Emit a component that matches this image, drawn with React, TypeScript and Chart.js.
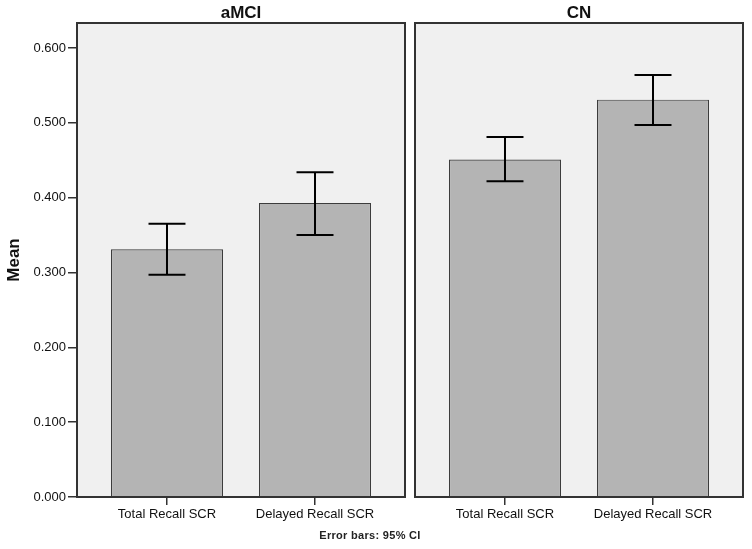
import React, { useEffect, useRef } from "react";
import { Chart, registerables } from "chart.js";

Chart.register(...registerables);

// ---- data ----
const groups = ["aMCI", "CN"];
const categories = ["Total Recall SCR", "Delayed Recall SCR"];
const yTicks = [0, 0.1, 0.2, 0.3, 0.4, 0.5, 0.6];
const aMCIMean = [0.331, 0.393];
const aMCILower = [0.297, 0.35];
const aMCIUpper = [0.365, 0.434];
const cnMean = [0.451, 0.531];
const cnLower = [0.422, 0.497];
const cnUpper = [0.481, 0.564];
const yTitle = "Mean";
const footnote = "Error bars: 95% CI";

const FONT = "'Liberation Sans', Arial, Helvetica, sans-serif";
const Y_MAX = 0.6334;

const panelPlugin = {
  id: "panelPlugin",
  beforeDraw(chart: any) {
    const { ctx, chartArea } = chart;
    ctx.save();
    ctx.fillStyle = "#f0f0f0";
    ctx.fillRect(chartArea.left, chartArea.top, chartArea.right - chartArea.left, chartArea.bottom - chartArea.top);
    ctx.restore();
  },
  afterDatasetsDraw(chart: any, _args: any, opts: any) {
    const { ctx } = chart;
    const yScale = chart.scales.y;
    const meta = chart.getDatasetMeta(0);
    ctx.save();
    ctx.strokeStyle = "#000";
    ctx.lineWidth = 2;
    meta.data.forEach((bar: any, i: number) => {
      const x = bar.x;
      const yl = yScale.getPixelForValue(opts.lower[i]);
      const yu = yScale.getPixelForValue(opts.upper[i]);
      const cap = bar.width * 0.33;
      ctx.beginPath();
      ctx.moveTo(x, yl);
      ctx.lineTo(x, yu);
      ctx.moveTo(x - cap / 2, yl);
      ctx.lineTo(x + cap / 2, yl);
      ctx.moveTo(x - cap / 2, yu);
      ctx.lineTo(x + cap / 2, yu);
      ctx.stroke();
    });
    ctx.restore();
  },
  afterDraw(chart: any, _args: any, opts: any) {
    const { ctx, chartArea } = chart;
    ctx.save();
    ctx.strokeStyle = "#333";
    ctx.lineWidth = 2;
    ctx.strokeRect(chartArea.left, chartArea.top, chartArea.right - chartArea.left, chartArea.bottom - chartArea.top);
    ctx.fillStyle = "#111";
    ctx.font = `bold 17px ${FONT}`;
    ctx.textAlign = "center";
    ctx.textBaseline = "middle";
    ctx.fillText(opts.title, (chartArea.left + chartArea.right) / 2, chartArea.top - 10);
    ctx.restore();
  },
};

type PanelProps = {
  title: string;
  means: number[];
  lower: number[];
  upper: number[];
  showY: boolean;
  width: number;
  left: number;
  padLeft: number;
  padRight: number;
};

function Panel(props: PanelProps) {
  const ref = useRef<HTMLCanvasElement | null>(null);
  useEffect(() => {
    if (!ref.current) return;
    const chart = new Chart(ref.current, {
      type: "bar",
      data: {
        datasets: [
          {
            data: props.means.map((v, i) => ({ x: i, y: v })),
            backgroundColor: "#b4b4b4",
            borderColor: "#3c3c3c",
            borderWidth: 1.2,
            categoryPercentage: 1,
            barPercentage: 0.757,
          },
        ],
      },
      options: {
        responsive: false,
        animation: false,
        layout: { padding: { top: 23, left: props.padLeft, right: props.padRight, bottom: 0 } },
        plugins: {
          legend: { display: false },
          tooltip: { enabled: false },
          title: { display: false },
          panelPlugin: { title: props.title, lower: props.lower, upper: props.upper },
        } as any,
        scales: {
          x: {
            type: "linear",
            min: -0.608,
            max: 1.608,
            offset: false,
            afterBuildTicks: (s: any) => {
              s.ticks = categories.map((_, i) => ({ value: i }));
            },
            ticks: {
              callback: (v: any) => categories[Math.round(Number(v))] ?? "",
              autoSkip: false,
              maxRotation: 0,
              padding: 2,
              color: "#111",
              font: { family: FONT, size: 13 },
            },
            grid: {
              offset: false,
              drawOnChartArea: false,
              drawTicks: true,
              tickLength: 8,
              color: "#333",
              lineWidth: 1.5,
            },
            border: { display: false },
            afterFit: (s: any) => {
              s.height = 52;
            },
          },
          y: {
            type: "linear",
            display: props.showY,
            min: 0,
            max: Y_MAX,
            afterBuildTicks: (s: any) => {
              s.ticks = yTicks.map((v) => ({ value: v }));
            },
            ticks: {
              callback: (v: any) => Number(v).toFixed(3),
              padding: 2,
              color: "#111",
              font: { family: FONT, size: 13 },
            },
            grid: { drawOnChartArea: false, drawTicks: true, tickLength: 9, color: "#333", lineWidth: 1.5 },
            border: { display: false },
            title: {
              display: true,
              text: yTitle,
              color: "#111",
              font: { family: FONT, size: 17, weight: "bold" },
              padding: { top: 4, bottom: 0 },
            },
            afterFit: (s: any) => {
              s.width = props.showY ? 77 : 0;
            },
          },
        },
      } as any,
      plugins: [panelPlugin],
    });
    return () => chart.destroy();
  }, []);
  return (
    <canvas
      ref={ref}
      width={props.width}
      height={549}
      style={{ position: "absolute", left: props.left, top: 0, width: props.width, height: 549 }}
    />
  );
}

export default function App() {
  useEffect(() => {
    document.body.style.margin = "0";
  }, []);
  return (
    <div style={{ position: "relative", width: 752, height: 549, background: "#fff", overflow: "hidden" }}>
      <Panel title={groups[0]} means={aMCIMean} lower={aMCILower} upper={aMCIUpper} showY={true} width={410} left={0} padLeft={0} padRight={5} />
      <Panel title={groups[1]} means={cnMean} lower={cnLower} upper={cnUpper} showY={false} width={342} left={410} padLeft={5} padRight={9} />
      <div
        style={{
          position: "absolute",
          left: 270,
          top: 528,
          width: 200,
          textAlign: "center",
          font: `bold 11px ${FONT}`,
          lineHeight: "14px",
          color: "#222",
          letterSpacing: "0.3px",
        }}
      >
        {footnote}
      </div>
    </div>
  );
}
